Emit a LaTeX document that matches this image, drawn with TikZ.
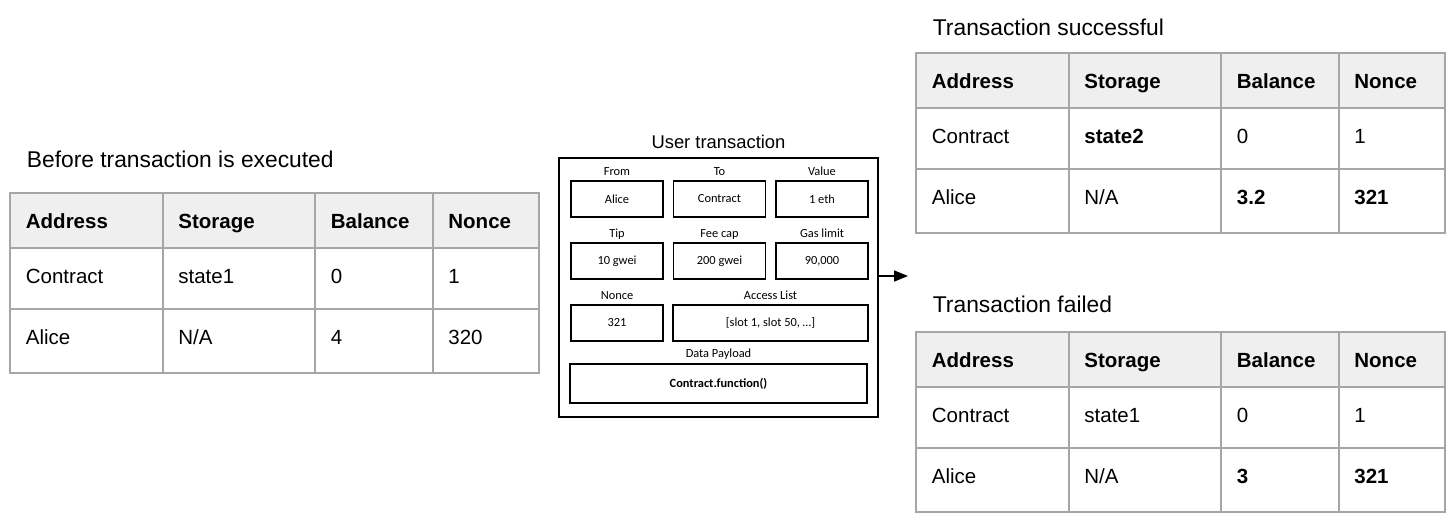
\documentclass[tikz,border=0pt]{standalone}
\usepackage{fontspec}
\setmainfont{Liberation Sans}
\newfontfamily\fieldfont{Carlito}
\usetikzlibrary{positioning,arrows.meta}
\definecolor{rulegray}{HTML}{A6A6A6}
\definecolor{headgray}{HTML}{EFEFEF}

\begin{document}
\begin{tikzpicture}
    [ x=.5pt, y=-.5pt,
      tabletitle/.style={anchor=base west, inner sep=0, font={\fontsize{11.4}{13}\selectfont}},
      cell/.style={anchor=base west, inner sep=0, font={\fontsize{10.25}{12}\selectfont}},
      headfill/.style={fill=headgray},
      tabrule/.style={rulegray, line width=1pt, line cap=rect},
      txnbox/.style={draw, line width=.8pt, minimum width=159.5pt, minimum height=129.5pt, inner sep=0},
      txntitle/.style={inner sep=0, text depth=0pt, font={\fontsize{9.2}{11}\selectfont}},
      field/.style={draw, line width=.7pt, minimum width=46pt, minimum height=18pt, inner sep=0,
                    font={\fieldfont\fontsize{6.2}{7}\selectfont}},
      fieldlabel/.style={inner sep=0, text depth=0pt, font={\fieldfont\fontsize{6.2}{7}\selectfont}},
      flow/.style={line width=.8pt, -{Triangle[length=7pt,width=5.5pt]}}
    ]
    \path[use as bounding box, fill=white] (0, 0) rectangle (1456, 526);

    \def\stategrid{%
        \path[headfill] (0, 0) rectangle (528.5, 55);
        \foreach \y in {0, 55, 116, 180}
            \draw[tabrule] (0, \y) -- (528.5, \y);
        \foreach \x in {0, 152.5, 305, 422.5, 528.5}
            \draw[tabrule] (\x, 0) -- (\x, 180);
    }
    \def\staterow#1#2#3#4#5#6{%
        \node[cell] (#1-addr) at (15.5, #2 + 35) {#3};
        \node[cell] (#1-store) at (168, #2 + 35) {#4};
        \node[cell] (#1-bal) at (320.5, #2 + 35) {#5};
        \node[cell] (#1-nonce) at (438, #2 + 35) {#6};
    }

    % Before transaction
    \node[tabletitle] (pre-title) at (26.5, 167) {Before transaction is executed};
    \begin{scope}[shift={(10, 193)}]
        \stategrid
        \staterow{pre-h}{0}{\textbf{Address}}{\textbf{Storage}}{\textbf{Balance}}{\textbf{Nonce}}
        \staterow{pre-c}{55}{Contract}{state1}{0}{1}
        \staterow{pre-a}{116}{Alice}{N/A}{4}{320}
    \end{scope}

    % Transaction successful
    \node[tabletitle] (ok-title) at (932.5, 35) {Transaction successful};
    \begin{scope}[shift={(916, 53)}]
        \stategrid
        \staterow{ok-h}{0}{\textbf{Address}}{\textbf{Storage}}{\textbf{Balance}}{\textbf{Nonce}}
        \staterow{ok-c}{55}{Contract}{\textbf{state2}}{0}{1}
        \staterow{ok-a}{116}{Alice}{N/A}{\textbf{3.2}}{\textbf{321}}
    \end{scope}

    % Transaction failed
    \node[tabletitle] (fail-title) at (932.5, 312) {Transaction failed};
    \begin{scope}[shift={(916, 332)}]
        \stategrid
        \staterow{fail-h}{0}{\textbf{Address}}{\textbf{Storage}}{\textbf{Balance}}{\textbf{Nonce}}
        \staterow{fail-c}{55}{Contract}{state1}{0}{1}
        \staterow{fail-a}{116}{Alice}{N/A}{\textbf{3}}{\textbf{321}}
    \end{scope}

    % User transaction
    \node[txnbox] (txn) at (718.5, 287.5) {};
    \node[txntitle, above=4.25pt of txn] (txn-title) {User transaction};
    \node[field] (from) at (617, 199) {Alice};
    \node[field] (to) at (719.5, 199) {Contract};
    \node[field] (value) at (822, 199) {1 eth};
    \node[field] (tip) at (617, 261) {10 gwei};
    \node[field] (feecap) at (719.5, 261) {200 gwei};
    \node[field] (gaslimit) at (822, 261) {90,000};
    \node[field] (nonce) at (617, 323) {321};
    \node[field, minimum width=97.5pt] (access) at (770.5, 323) {[slot 1, slot 50, …]};
    \node[field, minimum width=148.5pt, minimum height=19.5pt] (payload) at (718.5, 383.5)
        {\textbf{Contract.function()}};

    \node[fieldlabel, above=2pt of from] (from-label) {From};
    \node[fieldlabel, above=2pt of to] (to-label) {To};
    \node[fieldlabel, above=2pt of value] (value-label) {Value};
    \node[fieldlabel, above=2pt of tip] (tip-label) {Tip};
    \node[fieldlabel, above=2pt of feecap] (feecap-label) {Fee cap};
    \node[fieldlabel, above=2pt of gaslimit] (gaslimit-label) {Gas limit};
    \node[fieldlabel, above=2pt of nonce] (nonce-label) {Nonce};
    \node[fieldlabel, above=2pt of access] (access-label) {Access List};
    \node[fieldlabel, above=2.5pt of payload] (payload-label) {Data Payload};

    \coordinate (result) at (908, 276);
    \draw[flow] (txn.east |- result) -- (result);

\end{tikzpicture}
\end{document}
